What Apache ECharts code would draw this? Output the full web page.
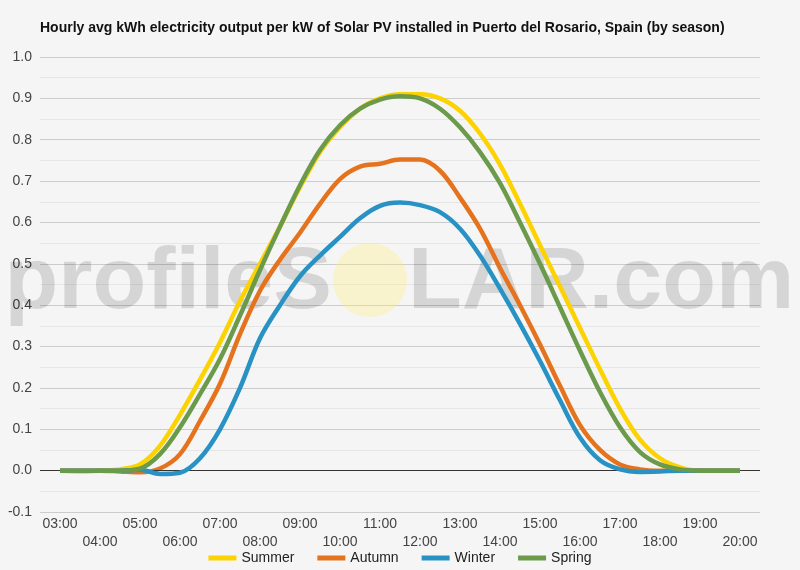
<!DOCTYPE html>
<html>
<head>
<meta charset="utf-8">
<script src="https://cdn.jsdelivr.net/npm/echarts@6/dist/echarts.min.js"></script>
<style>
  html, body { margin: 0; padding: 0; background: #f5f5f5; }
  #chart { width: 800px; height: 570px; }
</style>
</head>
<body>
<div id="chart"></div>
<script>
// half-hour slots, 02:30 and 20:30 are empty padding slots at the plot edges
const times = ['02:30', '03:00', '03:30', '04:00', '04:30', '05:00', '05:30', '06:00', '06:30',
  '07:00', '07:30', '08:00', '08:30', '09:00', '09:30', '10:00', '10:30', '11:00', '11:30',
  '12:00', '12:30', '13:00', '13:30', '14:00', '14:30', '15:00', '15:30', '16:00', '16:30',
  '17:00', '17:30', '18:00', '18:30', '19:00', '19:30', '20:00', '20:30']

const summer = [null, 0, -0.002, 0, 0.003, 0.015, 0.06, 0.135, 0.22, 0.31, 0.41, 0.5, 0.59, 0.685,
  0.77, 0.83, 0.875, 0.9, 0.91, 0.91, 0.9, 0.87, 0.815, 0.74, 0.645, 0.545, 0.445, 0.345, 0.245,
  0.15, 0.075, 0.03, 0.008, 0, 0, 0, null]
const autumn = [null, 0, 0, 0, -0.002, -0.004, 0.005, 0.04, 0.12, 0.21, 0.33, 0.435, 0.51, 0.575,
  0.645, 0.705, 0.735, 0.742, 0.752, 0.752, 0.725, 0.66, 0.585, 0.49, 0.4, 0.305, 0.205, 0.11,
  0.05, 0.015, 0.003, 0, 0, 0, 0, 0, null]
const winter = [null, 0, 0, 0, 0, 0.002, -0.008, -0.005, 0.03, 0.1, 0.2, 0.32, 0.4, 0.47, 0.52,
  0.565, 0.61, 0.64, 0.648, 0.642, 0.625, 0.585, 0.52, 0.44, 0.355, 0.265, 0.17, 0.08, 0.025,
  0.003, -0.003, -0.002, 0, 0, 0, 0, null]
const spring = [null, 0, 0, 0, 0, 0.005, 0.04, 0.105, 0.185, 0.27, 0.375, 0.485, 0.59, 0.69,
  0.775, 0.835, 0.875, 0.897, 0.905, 0.9, 0.875, 0.83, 0.77, 0.695, 0.6, 0.5, 0.395, 0.29, 0.19,
  0.105, 0.045, 0.015, 0.003, 0, 0, 0, null]

const seasons = [
  { name: 'Summer', color: '#fcd200', data: summer },
  { name: 'Autumn', color: '#e5731e', data: autumn },
  { name: 'Winter', color: '#2892c4', data: winter },
  { name: 'Spring', color: '#6b9a4b', data: spring }
]

const chart = echarts.init(document.getElementById('chart'))
const font = 'Arial, "Liberation Sans", sans-serif'

const series = seasons.map((s, i) => ({
  name: s.name,
  type: 'line',
  data: s.data,
  smooth: 0.35,
  symbol: 'none',
  z: 3 + i,
  lineStyle: { width: 4.5, color: s.color },
  itemStyle: { color: s.color },
  // zero baseline drawn once
  markLine: i === 0 ? {
    silent: true,
    symbol: 'none',
    label: { show: false },
    lineStyle: { color: '#333', width: 1, type: 'solid' },
    data: [{ yAxis: 0 }]
  } : undefined
}))

const option = {
  backgroundColor: '#f5f5f5',
  animation: false,
  title: {
    text: 'Hourly avg kWh electricity output per kW of Solar PV installed in Puerto del Rosario, Spain (by season)',
    left: 35,
    top: 16,
    textStyle: { fontFamily: font, fontSize: 14, fontWeight: 'bold', color: '#111' }
  },
  legend: {
    bottom: 0,
    left: 'center',
    icon: 'rect',
    itemWidth: 28,
    itemHeight: 5,
    itemGap: 23,
    textStyle: { fontFamily: font, fontSize: 14, color: '#222' },
    data: seasons.map(s => s.name)
  },
  graphic: [
    {
      type: 'circle',
      z: 1,
      shape: { cx: 370, cy: 280, r: 37 },
      style: { fill: 'rgba(255, 238, 110, 0.3)' }
    },
    {
      type: 'text',
      z: 1,
      x: 332,
      y: 328,
      style: {
        text: 'profileS',
        align: 'right',
        verticalAlign: 'bottom',
        font: 'bold 88px Arial, "Liberation Sans", sans-serif',
        fill: 'rgba(0, 0, 0, 0.13)'
      }
    },
    {
      type: 'text',
      z: 1,
      x: 408,
      y: 328,
      style: {
        text: 'LAR.com',
        align: 'left',
        verticalAlign: 'bottom',
        font: 'bold 88px Arial, "Liberation Sans", sans-serif',
        fill: 'rgba(0, 0, 0, 0.13)'
      }
    }
  ],
  grid: { left: 40, right: 40, top: 57, bottom: 58 },
  xAxis: {
    type: 'category',
    data: times,
    boundaryGap: false,
    axisLine: { show: false },
    axisTick: { show: false },
    splitLine: { show: false },
    axisLabel: {
      // only whole hours, alternating between two rows
      interval: (i, v) => v.endsWith(':00'),
      margin: 3,
      fontFamily: font,
      fontSize: 14,
      color: '#444',
      lineHeight: 18,
      formatter: v => (parseInt(v, 10) % 2 === 0 ? '\n' + v : v)
    }
  },
  yAxis: {
    type: 'value',
    min: -0.1,
    max: 1.0,
    interval: 0.1,
    axisLine: { show: false },
    axisTick: { show: false },
    axisLabel: {
      margin: 8,
      fontFamily: font,
      fontSize: 14,
      color: '#444',
      formatter: v => v.toFixed(1)
    },
    splitLine: { lineStyle: { color: '#cccccc', width: 1 } },
    minorTick: { show: false, splitNumber: 2 },
    minorSplitLine: { show: true, lineStyle: { color: '#e6e6e6', width: 1 } }
  },
  series: series
}

chart.setOption(option)
</script>
</body>
</html>
